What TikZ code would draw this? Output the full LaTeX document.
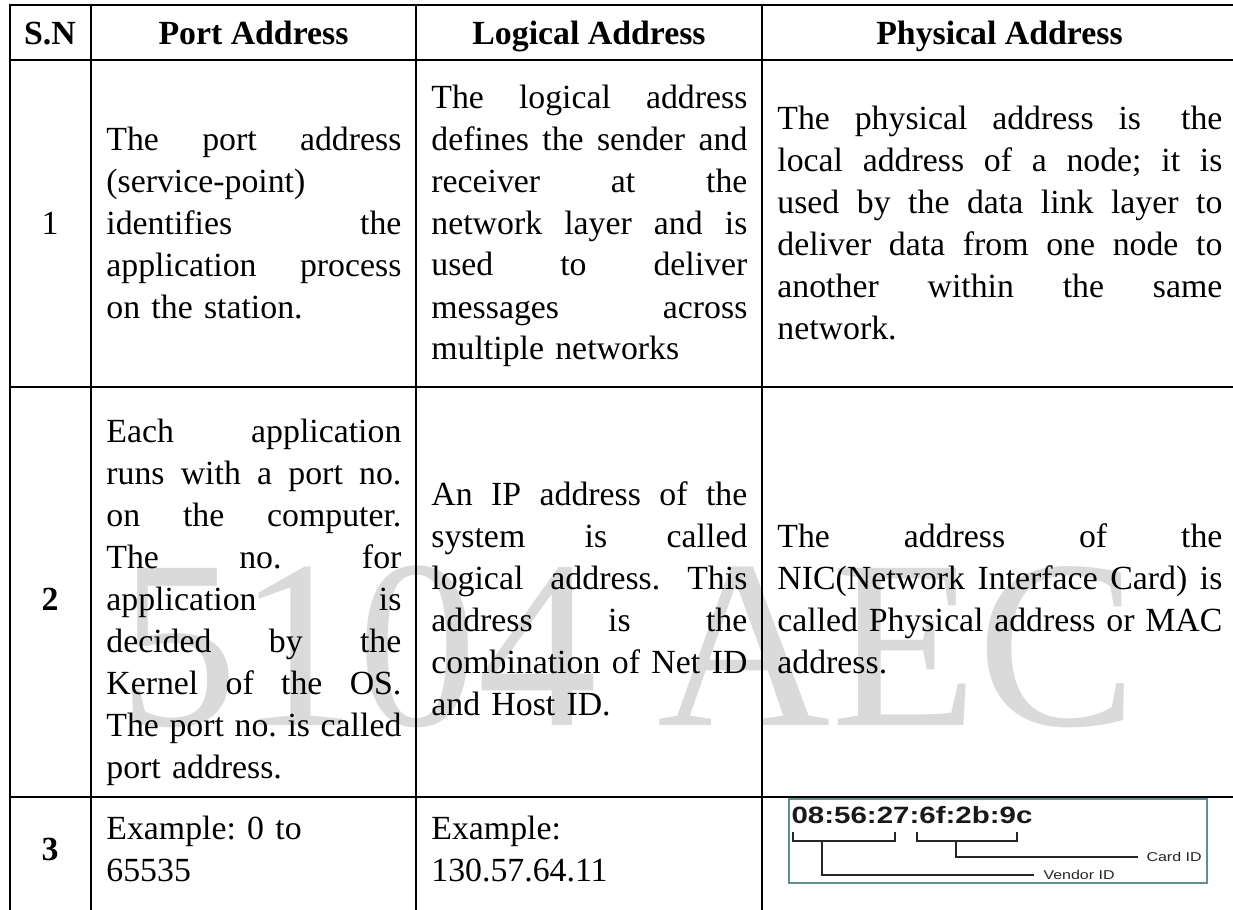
\documentclass[tikz,border=0pt]{standalone}
\usepackage{fontspec}
\setmainfont{Liberation Serif}
\newfontfamily\macsans{Liberation Sans}
\usepackage{tikz}
\usetikzlibrary{calc}
\definecolor{wmgray}{HTML}{DADADA}
\definecolor{boxteal}{HTML}{5F8F8F}
\newcommand{\cellfont}{\fontsize{16.9}{21}\selectfont\frenchspacing}
\def\cellw{100pt}
\newcommand{\jline}[1]{\hbox to \cellw{\spaceskip=0.25em plus 1fil\relax #1}}

\begin{document}
\begin{tikzpicture}[x=0.5pt, y=-0.5pt,
  cell/.style={anchor=base west, inner sep=0pt, align=left, font=\cellfont,
    text width=#1, execute at begin node={\def\cellw{#1}}},
  head/.style={anchor=base, inner sep=0pt, font=\cellfont\bfseries},
  rule/.style={line width=1pt, line cap=rect},
  thin/.style={line width=0.6pt, black!85},
  idlabel/.style={anchor=west, inner sep=0pt, text=black!85, transform shape,
    xscale=1.25, font=\macsans\fontsize{6.4}{7}\selectfont}]

\fill[white] (0,0) rectangle (1233,910);
\useasboundingbox (0,0) rectangle (1233,910);
\clip (0,0) rectangle (1233,910);

% watermark
\node[anchor=base, inner sep=0pt, text=wmgray,
  font=\fontsize{120}{120}\selectfont] (wmark) at (628,725) {5104 AEC};

% grid
\foreach \y in {5,60,387,797}
  \draw[rule] (9.5,\y) -- (1245,\y);
\foreach \x in {9.5,91,416,762}
  \draw[rule] (\x,5) -- (\x,920);

% header
\node[head] (hsn)   at (50,44)    {S.N};
\node[head] (hport) at (253.5,44) {Port Address};
\node[head] (hlog)  at (589,44)   {Logical Address};
\node[head] (hphy)  at (999.5,44) {Physical Address};

% first row
\node[anchor=base, inner sep=0pt, font=\cellfont] (sn1) at (50,234) {1};
\node[cell=147.5pt] (port1) at (106,150) {%
  \leavevmode\jline{The port address}\\
  (service-point)\\
  \leavevmode\jline{identifies the}\\
  \leavevmode\jline{application process}\\
  on the station.};
\node[cell=158pt] (log1) at (431,108) {%
  \leavevmode\jline{The logical address}\\
  \leavevmode\jline{defines the sender and}\\
  \leavevmode\jline{receiver at the}\\
  \leavevmode\jline{network layer and is}\\
  \leavevmode\jline{used to deliver}\\
  \leavevmode\jline{messages across}\\
  multiple networks};
\node[cell=222.5pt] (phy1) at (777,129) {%
  \leavevmode\jline{The physical address is\hspace{0.45em} the}\\
  \leavevmode\jline{local address of a node; it is}\\
  \leavevmode\jline{used by the data link layer to}\\
  \leavevmode\jline{deliver data from one node to}\\
  \leavevmode\jline{another within the same}\\
  network.};

% second row
\node[head] (sn2) at (50,610) {2};
\node[cell=147.5pt] (port2) at (106,442) {%
  \leavevmode\jline{Each application}\\
  \leavevmode\jline{runs with a port no.}\\
  \leavevmode\jline{on the computer.}\\
  \leavevmode\jline{The no. for}\\
  \leavevmode\jline{application is}\\
  \leavevmode\jline{decided by the}\\
  \leavevmode\jline{Kernel of the OS.}\\
  \leavevmode\jline{The port no. is called}\\
  port address.};
\node[cell=158pt] (log2) at (431,505) {%
  \leavevmode\jline{An IP address of the}\\
  \leavevmode\jline{system is called}\\
  \leavevmode\jline{logical address. This}\\
  \leavevmode\jline{address is the}\\
  \leavevmode\jline{combination of Net ID}\\
  and Host ID.};
\node[cell=222.5pt] (phy2) at (777,547) {%
  \leavevmode\jline{The address of the}\\
  \leavevmode\jline{NIC(Network Interface Card) is}\\
  \leavevmode\jline{called Physical address or MAC}\\
  address.};

% third row
\node[head] (sn3) at (50,860) {3};
\node[cell=147.5pt] (port3) at (106,839) {Example: 0 to\\ 65535};
\node[cell=158pt] (log3) at (431,839) {Example:\\ 130.57.64.11};

% mac address figure
\begin{scope}[shift={(789,799)}]
  \draw[boxteal, line width=0.8pt] (0,0) rectangle (418,84);
  \node[anchor=base west, inner sep=0pt, text=black!90, transform shape, xscale=1.25,
    font=\macsans\bfseries\fontsize{11.8}{12}\selectfont] (mac) at (2,24) {08:56:27:6f:2b:9c};
  \draw[thin] (4,33) -- (4,42) -- (106,42) -- (106,33);
  \draw[thin] (128,33) -- (128,42) -- (228,42) -- (228,33);
  \coordinate (vtop) at (33,42);
  \coordinate (ctop) at (167,42);
  \node[idlabel] (vendor) at (254,76) {Vendor ID};
  \node[idlabel] (card) at (357,58) {Card ID};
  \draw[thin] (vtop) |- ($(vendor.west)+(-9,0)$);
  \draw[thin] (ctop) |- ($(card.west)+(-8,0)$);
\end{scope}

\end{tikzpicture}
\end{document}
